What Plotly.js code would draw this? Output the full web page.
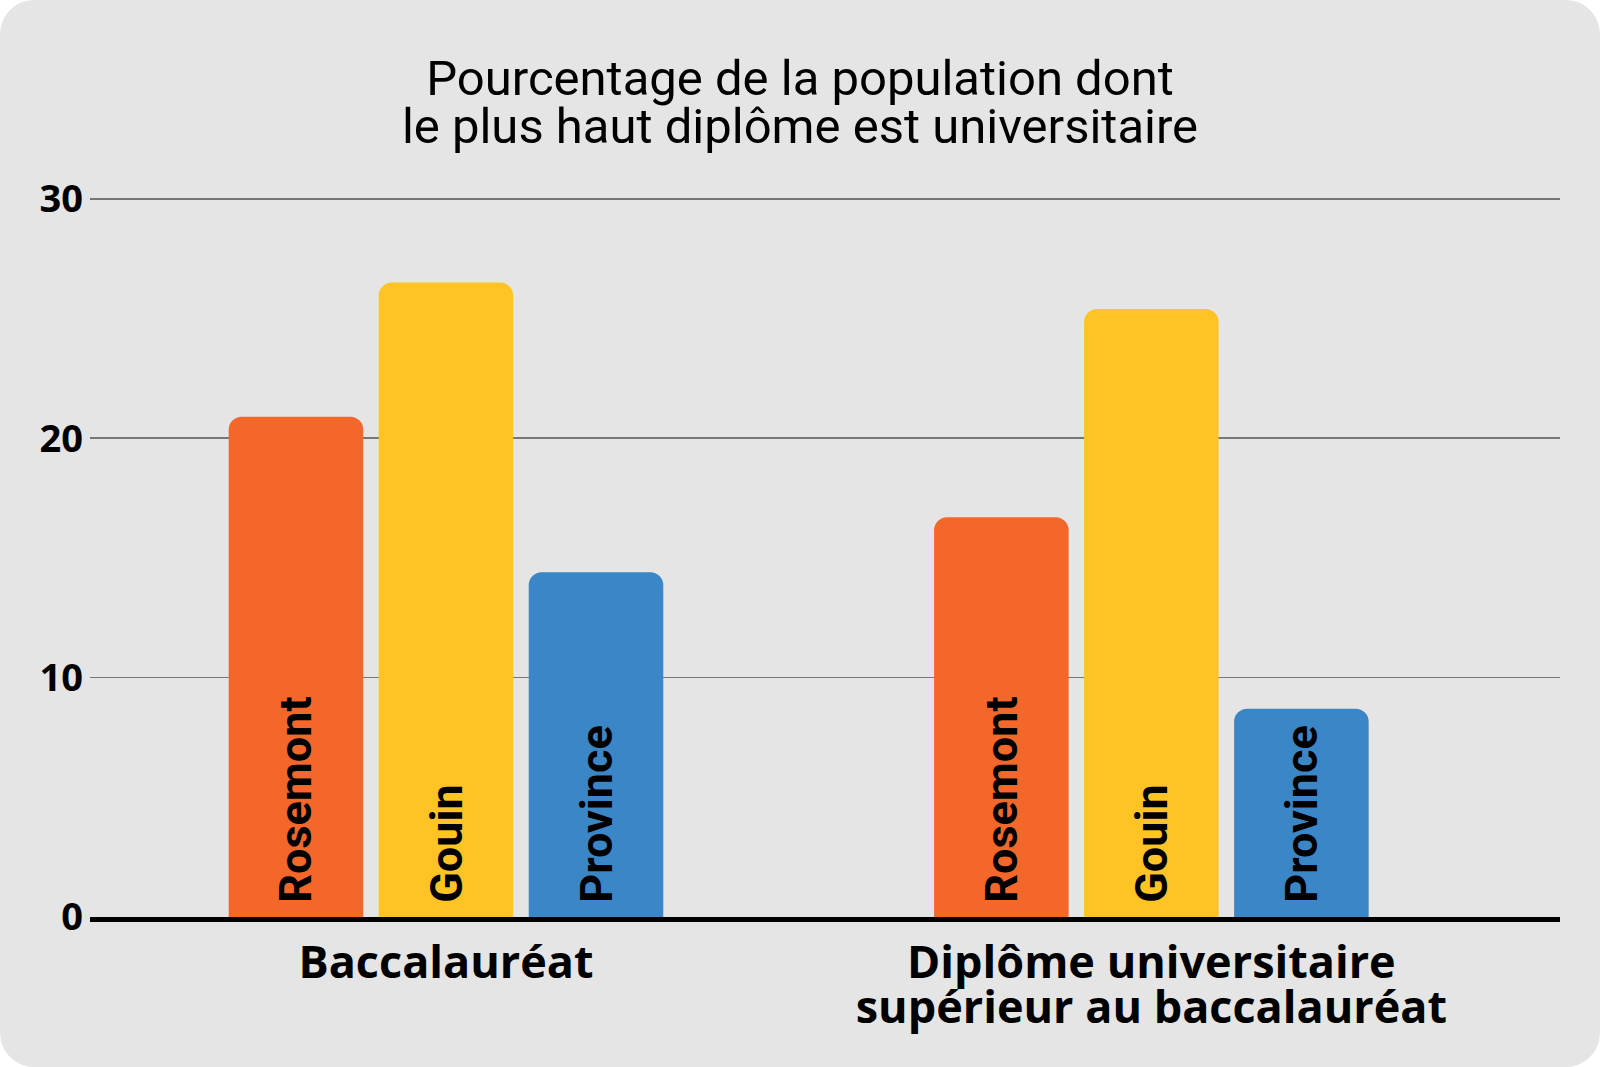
<!DOCTYPE html>
<html>
<head>
<meta charset="utf-8">
<script src="https://cdn.plot.ly/plotly-3.0.1.min.js"></script>
<style>
  html, body { margin: 0; padding: 0; background: #ffffff; }
  #chart { width: 1600px; height: 1067px; border-radius: 34px; overflow: hidden; }
</style>
</head>
<body>
<div id="chart"></div>
<script>
// ---- data ----
const categories = ["Baccalauréat", "Diplôme universitaire<br>supérieur au baccalauréat"];
const seriesNames = ["Rosemont", "Gouin", "Province"];
const rosemont = [20.9, 16.7];
const gouin = [26.5, 25.4];
const province = [14.4, 8.7];
const yTicks = [0, 10, 20, 30];
const titleLines = ["Pourcentage de la population dont", "le plus haut diplôme est universitaire"];

const colors = ["#F3672B", "#FEC325", "#3B86C6"];
const FONT = "Roboto, 'Open Sans', sans-serif";
const FONT_WIDE = "'Open Sans', Roboto, sans-serif";

const seriesValues = [rosemont, gouin, province];
const traces = seriesNames.map((name, i) => ({
  type: "bar",
  name: name,
  x: categories,
  y: seriesValues[i],
  marker: { color: colors[i], line: { width: 0 } },
  text: categories.map(() => "\u00a0" + name),
  textposition: "inside",
  insidetextanchor: "start",
  textangle: -90,
  insidetextfont: { family: FONT, size: 45, color: "#000000", weight: 700 },
  hoverinfo: "skip",
  cliponaxis: false
}));

const tickText = categories.map(c => '<span style="font-size:45px">' + c + '</span>');

const layout = {
  width: 1600,
  height: 1067,
  paper_bgcolor: "#e5e5e5",
  plot_bgcolor: "#e5e5e5",
  showlegend: false,
  margin: { l: 90, r: 40, t: 194, b: 150 },
  barmode: "group",
  bargap: 0.362,
  bargroupgap: 0.103,
  barcornerradius: 13,
  title: {
    text: '<span style="font-size:49px">' + titleLines.join("<br>") + '</span>',
    font: { family: FONT, size: 36.7, color: "#000000", weight: 400 },
    x: 0.5, xref: "container", xanchor: "center",
    y: 0.911, yref: "container", yanchor: "top"
  },
  xaxis: {
    type: "category",
    range: [-0.5047, 1.5793],
    tickvals: categories,
    ticktext: tickText,
    tickfont: { family: FONT_WIDE, size: 35, color: "#000000", weight: 700 },
    ticklabelstandoff: 14,
    showgrid: false,
    zeroline: false,
    showline: true,
    linecolor: "#000000",
    linewidth: 4.5,
    ticks: "",
    layer: "above traces",
    fixedrange: true
  },
  yaxis: {
    range: [0, 30.2],
    tickvals: yTicks,
    ticktext: yTicks.map(String),
    tickfont: { family: FONT_WIDE, size: 38, color: "#000000", weight: 700 },
    showgrid: true,
    gridcolor: "#767676",
    gridwidth: 1.5,
    zeroline: false,
    showline: false,
    ticks: "",
    ticklabelstandoff: 6,
    fixedrange: true
  }
};

Plotly.newPlot("chart", traces, layout, { displayModeBar: false, staticPlot: true });
</script>
</body>
</html>
